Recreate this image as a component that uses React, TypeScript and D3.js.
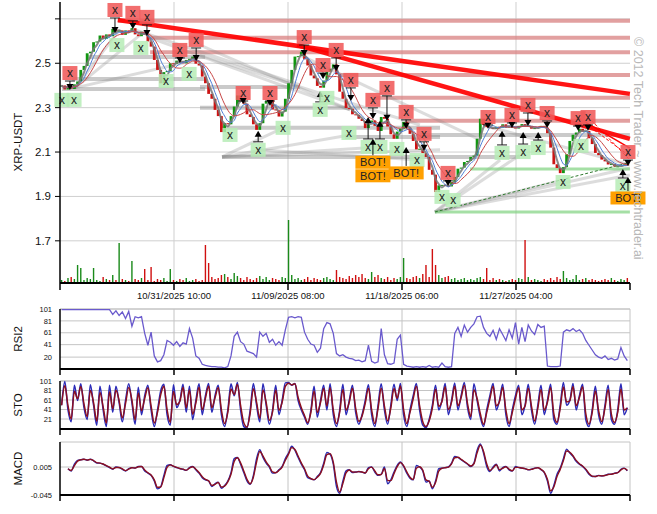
import React from "react";
import * as d3 from "d3";

// ---------- DATA ----------
const START = Date.UTC(2025, 9, 22, 12);
const HOUR = 3600000;
const SPAN_HOURS = 1070;
const CANDLE_HOURS = 6;

const xTickLabels = ["10/31/2025 10:00", "11/09/2025 08:00", "11/18/2025 06:00", "11/27/2025 04:00"];

const priceGrid = [1.7, 1.9, 2.1, 2.3, 2.5, 2.7];
const priceTickLabels = ["1.7", "1.9", "2.1", "2.3", "2.5", ""];
const rsiTicks = [20, 41, 61, 81, 101];
const stoTicks = [21, 41, 61, 81, 101];
const macdTicks = [-0.045, 0.005];
const macdTickLabels = ["-0.045", "0.005"];

const closes = [
  2.400, 2.382, 2.398, 2.384, 2.405, 2.418, 2.470, 2.488, 2.545, 2.552,
  2.595, 2.598, 2.625, 2.610, 2.630, 2.622, 2.655, 2.642, 2.648, 2.628,
  2.648, 2.640, 2.658, 2.630, 2.622, 2.642, 2.630, 2.598, 2.575, 2.515,
  2.470, 2.410, 2.460, 2.465, 2.500, 2.498, 2.512, 2.508, 2.500, 2.515,
  2.520, 2.530, 2.498, 2.490, 2.440, 2.410, 2.362, 2.340, 2.290, 2.262,
  2.190, 2.230, 2.225, 2.262, 2.305, 2.355, 2.328, 2.318, 2.270, 2.258,
  2.225, 2.200, 2.230, 2.318, 2.330, 2.335, 2.292, 2.288, 2.260, 2.282,
  2.340, 2.410, 2.470, 2.530, 2.532, 2.552, 2.518, 2.490, 2.445, 2.432,
  2.398, 2.390, 2.422, 2.462, 2.475, 2.495, 2.450, 2.372, 2.340, 2.298,
  2.295, 2.270, 2.268, 2.250, 2.240, 2.208, 2.232, 2.242, 2.218, 2.195,
  2.258, 2.250, 2.215, 2.180, 2.160, 2.192, 2.205, 2.236, 2.210, 2.182,
  2.150, 2.112, 2.115, 2.095, 2.078, 2.020, 1.998, 1.920, 1.950, 1.952,
  1.948, 1.945, 1.965, 1.988, 2.025, 2.030, 2.055, 2.060, 2.078, 2.084,
  2.160, 2.250, 2.222, 2.212, 2.208, 2.204, 2.214, 2.210, 2.225, 2.210,
  2.216, 2.212, 2.206, 2.218, 2.226, 2.214, 2.218, 2.205, 2.208, 2.212,
  2.218, 2.210, 2.185, 2.120, 2.045, 2.028, 2.005, 2.032, 2.090, 2.150,
  2.178, 2.188, 2.205, 2.192, 2.195, 2.162, 2.136, 2.096, 2.086, 2.066,
  2.058, 2.044, 2.046, 2.035, 2.036, 2.040, 2.044, 2.040,
];
const firstOpen = 2.395;

const volumes = [
  3, 2, 5, 6, 4, 18, 15, 3, 5, 4,
  15, 3, 2, 6, 4, 3, 8, 3, 40, 4,
  3, 2, 22, 4, 3, 5, 14, 3, 16, 2,
  4, 3, 5, 2, 14, 3, 2, 4, 3, 5,
  2, 3, 4, 2, 3, 38, 20, 6, 4, 5,
  8, 9, 6, 4, 10, 7, 5, 3, 6, 4,
  3, 5, 7, 4, 6, 3, 5, 4, 3, 6,
  5, 63, 8, 4, 5, 3, 4, 6, 3, 5,
  4, 3, 5, 6, 4, 3, 13, 6, 5, 4,
  7, 5, 8, 6, 9, 5, 4, 11, 6, 8,
  5, 4, 6, 3, 5, 4, 6, 25, 5, 4,
  6, 7, 5, 9, 18, 6, 34, 18, 8, 5,
  6, 7, 4, 5, 3, 4, 5, 3, 4, 3,
  5, 6, 4, 15, 3, 5, 3, 4, 3, 2,
  3, 4, 3, 5, 4, 43, 6, 3, 4, 3,
  2, 4, 3, 5, 3, 6, 4, 12, 5, 3,
  4, 8, 3, 4, 5, 3, 4, 3, 2, 3,
  4, 3, 5, 3, 2, 4, 3, 5,
];

const rsi2 = [
  100, 100, 100, 100, 100, 100, 100, 100, 100, 100, 100, 100, 100, 100, 100, 100,
  92, 98, 90, 96, 85, 97, 72, 88, 86, 88,
  60, 40, 62, 22, 12, 14, 24, 48, 45, 40,
  46, 38, 44, 42, 68, 52, 22, 18, 8, 6,
  5, 4, 4, 3, 3, 2, 4, 22, 55, 62,
  46, 42, 30, 28, 26, 20, 62, 55, 60, 45,
  50, 40, 46, 40, 66, 87, 88, 86, 88, 87,
  62, 50, 42, 40, 28, 35, 68, 78, 76, 60,
  26, 22, 24, 20, 18, 17, 14, 15, 12, 14,
  40, 13, 10, 12, 68, 24, 9, 8, 10, 50,
  57, 8, 5, 4, 3, 4, 3, 4, 3, 6,
  3, 4, 3, 10, 4, 3, 4, 60, 70, 55,
  74, 62, 70, 76, 88, 89, 70, 60, 55, 65,
  50, 68, 58, 48, 66, 52, 78, 42, 70, 46,
  74, 64, 58, 75, 70, 72, 5, 4, 4, 4,
  5, 62, 66, 64, 68, 63, 66, 60, 48, 40,
  32, 24, 20, 18, 22, 16, 18, 15, 17, 36,
  22, 14,
];

const stoK = [
  50, 100, 40, 15, 92, 60, 95, 45, 20, 93,
  50, 8, 90, 40, 5, 92, 35, 90, 55, 15,
  60, 95, 55, 10, 88, 30, 70, 92, 40, 5,
  40, 80, 94, 30, 8, 93, 45, 60, 94, 35,
  90, 20, 60, 95, 30, 70, 96, 35, 70, 92,
  30, 5, 40, 95, 70, 98, 40, 5, 2, 40,
  96, 50, 15, 95, 50, 10, 40, 92, 30, 60,
  97, 98, 92, 96, 60, 40, 25, 10, 40, 90,
  25, 60, 92, 40, 95, 30, 5, 40, 94, 30,
  60, 92, 35, 10, 30, 60, 93, 30, 5, 50,
  95, 40, 10, 50, 94, 60, 96, 30, 5, 40,
  70, 96, 40, 8, 3, 20, 50, 92, 40, 60,
  96, 30, 60, 97, 40, 70, 98, 45, 20, 95,
  60, 25, 5, 40, 70, 96, 40, 60, 94, 30,
  5, 40, 70, 92, 30, 50, 94, 40, 10, 50,
  92, 30, 60, 94, 20, 10, 50, 98, 50, 60,
  96, 40, 70, 94, 20, 5, 40, 90, 30, 10,
  50, 92, 20, 10, 40, 95, 30, 45,
];

const macd: (number | null)[] = [
  null, null, 0.002, -0.002, 0.010, 0.017, 0.018, 0.019, 0.017, 0.019,
  0.016, 0.012, 0.012, 0.010, 0.007, 0.004, 0.001, 0.005, 0.004, 0.001,
  -0.002, 0.002, 0.004, 0.003, 0.006, 0.006, -0.002, -0.006, -0.010, -0.020,
  -0.034, -0.030, -0.010, 0.008, 0.009, 0.006, 0.004, 0.002, 0.001, -0.001,
  0.004, 0.006, 0.000, -0.006, -0.014, -0.018, -0.020, -0.030, -0.025, -0.022,
  -0.033, -0.028, -0.020, -0.005, 0.020, 0.022, 0.010, -0.005, -0.020, -0.026,
  -0.010, 0.020, 0.036, 0.022, 0.012, 0.005, -0.006, -0.005, 0.000, 0.006,
  0.020, 0.030, 0.042, 0.035, 0.022, 0.010, 0.000, -0.014, -0.016, -0.018,
  -0.012, -0.005, 0.012, 0.031, 0.028, 0.010, -0.030, -0.042, -0.020, -0.002,
  0.000, -0.005, -0.004, -0.003, -0.004, -0.006, 0.004, 0.005, -0.004, -0.010,
  -0.008, 0.005, -0.025, -0.018, -0.004, 0.008, 0.014, 0.006, -0.006, -0.015,
  -0.018, 0.008, 0.005, -0.002, -0.022, -0.020, -0.034, -0.020, 0.002, 0.003,
  0.004, 0.005, 0.012, 0.024, 0.022, 0.018, 0.014, 0.010, 0.006, 0.012,
  0.035, 0.046, 0.030, 0.006, -0.003, 0.005, 0.010, -0.002, 0.004, 0.006,
  0.000, -0.002, 0.006, 0.004, 0.003, 0.002, 0.000, 0.001, 0.003, 0.004,
  0.000, -0.005, -0.020, -0.042, -0.028, -0.008, 0.003, 0.020, 0.037, 0.030,
  0.024, 0.015, 0.010, 0.006, 0.000, -0.008, -0.012, -0.012, -0.010, -0.011,
  -0.010, -0.008, -0.008, -0.006, -0.005, 0.001, 0.003, -0.002,
];

// resistance levels [start candle index, price]
const resistanceLevels: [number, number][] = [
  [17.6, 2.692], [27.7, 2.615], [27.7, 2.55], [87.1, 2.447], [98.1, 2.345], [107.4, 2.241],
];
// main down trend lines [i0, p0, i1, p1]
const trendLines: [number, number, number, number][] = [
  [17.6, 2.695, 177.8, 2.362],
  [73.7, 2.582, 177.8, 2.159],
];
const thinRedLines: [number, number, number, number][] = [
  [161.6, 2.254, 177.8, 2.118],
];
const dashedRedLines: [number, number, number, number][] = [
  [164.7, 2.258, 177.8, 2.064],
  [161.6, 2.253, 177.2, 2.087],
];
// support levels [i0, p0, i1, p1]
const graySupports: [number, number, number, number][] = [
  [0.1, 2.384, 44.9, 2.384], [3.3, 2.429, 44.9, 2.429], [8.3, 2.528, 44.9, 2.528],
  [43.3, 2.393, 74.6, 2.393], [43.3, 2.299, 93.4, 2.299], [49.6, 2.209, 118.4, 2.209],
  [50.2, 2.078, 143.4, 2.078], [88.7, 2.168, 118.4, 2.168], [112.1, 2.177, 177.8, 2.177],
];
const grayFans: [number, number, number, number][] = [
  [4.2, 2.389, 17.6, 2.641], [4.2, 2.389, 24.5, 2.627], [4.2, 2.389, 42.1, 2.515],
  [23.0, 2.65, 74.6, 2.402], [27.7, 2.614, 90.2, 2.29], [43.3, 2.582, 90.2, 2.29],
  [50.2, 2.078, 69.3, 2.209], [50.2, 2.078, 90.2, 2.177], [50.2, 2.078, 118.4, 2.11],
  [61.5, 2.11, 112.1, 2.064], [116.8, 1.83, 156.9, 1.974], [116.8, 1.83, 177.8, 1.997],
  [116.8, 1.83, 143.4, 2.087], [116.8, 1.83, 137.2, 2.064], [116.8, 1.83, 177.8, 2.028],
  [74.6, 2.537, 130.9, 2.155], [43.3, 2.537, 112.1, 2.222], [134.0, 2.213, 177.8, 2.042],
  [50.2, 2.078, 99.6, 2.123],
];
const greenSupports: [number, number, number][] = [
  [116.8, 177.8, 1.83], [127.8, 177.8, 2.024],
];
const greenDashed: [number, number, number, number][] = [[116.8, 1.83, 177.2, 2.051]];

// signals [candle index, arrow tip price, label price]
const sellSignals: [number, number, number][] = [
  [2.6, 2.384, 2.456], [16.7, 2.641, 2.74], [22.3, 2.659, 2.727], [26.7, 2.627, 2.709],
  [37.0, 2.506, 2.56], [42.1, 2.515, 2.605], [56.8, 2.321, 2.366], [65.2, 2.312, 2.366],
  [75.9, 2.537, 2.618], [81.8, 2.434, 2.492], [85.9, 2.47, 2.56], [90.5, 2.335, 2.425],
  [97.4, 2.253, 2.335], [101.8, 2.245, 2.389], [107.8, 2.209, 2.281], [113.4, 2.11, 2.182],
  [120.9, 1.952, 2.006], [133.4, 2.209, 2.258], [140.9, 2.213, 2.267], [145.9, 2.222, 2.312],
  [151.9, 2.213, 2.276], [161.6, 2.2, 2.253], [164.7, 2.2, 2.258], [177.2, 2.042, 2.1],
];
const buySignals: [number, number, number][] = [
  [0.1, 2.375, 2.335], [3.9, 2.38, 2.335], [17.3, 2.614, 2.582], [24.8, 2.605, 2.569],
  [32.7, 2.447, 2.42], [39.9, 2.488, 2.452], [52.7, 2.209, 2.177], [61.5, 2.191, 2.11],
  [69.3, 2.258, 2.209], [80.9, 2.371, 2.29], [83.0, 2.38, 2.344], [89.9, 2.245, 2.186],
  [95.9, 2.253, 2.123], [99.6, 2.236, 2.123], [104.9, 2.164, 2.114], [111.2, 2.11, 2.064],
  [119.0, 1.929, 1.898], [122.5, 1.929, 1.884], [137.8, 2.191, 2.096], [144.4, 2.186, 2.1],
  [149.1, 2.186, 2.118], [156.9, 1.992, 1.965], [162.5, 2.173, 2.128], [175.6, 2.019, 1.947],
];
const botSignals: [number, number | null, number][] = [
  [97.4, 2.155, 2.054], [97.4, null, 1.993], [107.8, 2.118, 2.006], [177.2, 1.983, 1.893],
];

// ---------- HELPERS ----------
function sma(arr: number[], n: number): number[] {
  return arr.map((_, i) => d3.mean(arr.slice(Math.max(0, i - n + 1), i + 1)) as number);
}
function ema(arr: number[], alpha: number): number[] {
  const out: number[] = [];
  arr.forEach((v, i) => out.push(i === 0 ? v : out[i - 1] + alpha * (v - out[i - 1])));
  return out;
}

const FONT = "'Liberation Sans', Arial, Helvetica, sans-serif";
const X0 = 60, X1 = 630;

export default function App() {
  const parseTick = d3.utcParse("%m/%d/%Y %H:%M");
  const x = d3.scaleUtc().domain([new Date(START), new Date(START + SPAN_HOURS * HOUR)]).range([X0, X1]);
  const xi = (i: number) => x(new Date(START + (i * CANDLE_HOURS + CANDLE_HOURS / 2) * HOUR));
  const tickX = xTickLabels.map((s) => x(parseTick(s) as Date));
  const allTickX = [X0, ...tickX, X1];

  const yP = d3.scaleLinear().domain([1.51, 2.776]).range([283, 2]);
  const yV = d3.scaleLinear().domain([0, 100]).range([283, 183]);
  const yR = d3.scaleLinear().domain([0, 101]).range([369, 309]);
  const yS = d3.scaleLinear().domain([0, 101]).range([429, 381]);
  const yM = d3.scaleLinear().domain([-0.045, 0.0497]).range([495, 442]);

  const opens = closes.map((c, i) => (i === 0 ? firstOpen : closes[i - 1]));
  const ma3 = sma(closes, 3);
  const ma5 = sma(closes, 5);
  const ma8 = sma(closes, 8);
  const lineP = (arr: number[]) =>
    d3.line<number>().x((_, i) => xi(i)).y((d) => yP(d)).curve(d3.curveMonotoneX)(arr) as string;

  const stoD = ema(stoK, 0.82);
  const macdVals = macd.map((v) => v);
  const macdSig = macdVals.map((v, i) => {
    const prev = i > 0 ? macdVals[i - 1] : null;
    return v == null ? null : prev == null ? v : 0.2 * prev + 0.8 * v;
  });

  const oscLine = (arr: (number | null)[], y: d3.ScaleLinear<number, number>, smooth = false) =>
    d3.line<number | null>().defined((d) => d != null).x((_, i) => xi(i)).y((d) => y(d as number))
      .curve(smooth ? d3.curveMonotoneX : d3.curveLinear)(arr) as string;

  const seg = (s: [number, number, number, number]) => ({ x1: xi(s[0]), y1: yP(s[1]), x2: xi(s[2]), y2: yP(s[3]) });

  const panels = [
    { title: "RSI2", y: yR, top: 309, bottom: 369, ticks: rsiTicks, labels: rsiTicks.map(String) },
    { title: "STO", y: yS, top: 381, bottom: 429, ticks: stoTicks, labels: stoTicks.map(String) },
    { title: "MACD", y: yM, top: 442, bottom: 495, ticks: macdTicks, labels: macdTickLabels },
  ];

  return (
    <svg width={657} height={514} style={{ position: "absolute", left: 0, top: 0, background: "#fff" }} fontFamily={FONT}>
      <defs>
        <clipPath id="mainClip"><rect x={X0} y={0} width={X1 - X0 + 20} height={283} /></clipPath>
        <clipPath id="oscClip"><rect x={X0} y={300} width={X1 - X0} height={200} /></clipPath>
      </defs>
      <rect x={0} y={0} width={657} height={514} fill="#fff" />

      {/* main grid */}
      {priceGrid.map((p) => (
        <line key={"pg" + p} x1={X0} x2={X1} y1={yP(p)} y2={yP(p)} stroke="#cfcfcf" strokeWidth={1} />
      ))}
      {tickX.map((tx, k) => (
        <line key={"vg" + k} x1={tx} x2={tx} y1={2} y2={283} stroke="#cfcfcf" strokeWidth={1} />
      ))}

      <g clipPath="url(#mainClip)">
        {/* volume */}
        {volumes.map((v, i) => (
          <rect key={"v" + i} x={xi(i) - 0.7} width={1.4} y={yV(v)} height={283 - yV(v)}
            fill={closes[i] >= opens[i] ? "#1a8a1a" : "#d01010"} />
        ))}
        {/* resistance bands */}
        {resistanceLevels.map(([i0, p], k) => (
          <line key={"rl" + k} x1={xi(i0)} x2={X1} y1={yP(p)} y2={yP(p)} stroke="#d88080" strokeOpacity={0.75} strokeWidth={4} />
        ))}
        {/* gray supports / fans */}
        {graySupports.map((s, k) => (
          <line key={"gs" + k} {...seg(s)} stroke="#8a8a8a" strokeOpacity={0.45} strokeWidth={4} />
        ))}
        {grayFans.map((s, k) => (
          <line key={"gf" + k} {...seg(s)} stroke="#8a8a8a" strokeOpacity={0.3} strokeWidth={3} />
        ))}
        {greenSupports.map(([i0, i1, p], k) => (
          <line key={"gr" + k} x1={xi(i0)} x2={xi(i1)} y1={yP(p)} y2={yP(p)} stroke="#7fd27f" strokeOpacity={0.7} strokeWidth={3} />
        ))}
        {greenDashed.map((s, k) => (
          <line key={"gd" + k} {...seg(s)} stroke="#2f7a2f" strokeWidth={1} strokeDasharray="3,2" />
        ))}

        {/* candles */}
        {closes.map((c, i) => {
          const o = opens[i];
          const top = yP(Math.max(o, c));
          const h = Math.max(1, yP(Math.min(o, c)) - top);
          return (
            <rect key={"c" + i} x={xi(i) - 1.4} width={2.8} y={top} height={h}
              fill={c >= o ? "#119611" : "#cc1414"} />
          );
        })}
        <path d={lineP(ma3)} fill="none" stroke="#777" strokeWidth={2} strokeOpacity={0.85} />
        <path d={lineP(ma5)} fill="none" stroke="#4f7fd6" strokeWidth={1} />
        <path d={lineP(ma8)} fill="none" stroke="#c84848" strokeWidth={1} />

        {/* red trend lines */}
        {trendLines.map((s, k) => (
          <line key={"tl" + k} {...seg(s)} stroke="#ff0000" strokeOpacity={0.92} strokeWidth={4.5} />
        ))}
        {thinRedLines.map((s, k) => (
          <line key={"tr" + k} {...seg(s)} stroke="#ff0000" strokeWidth={1.5} />
        ))}
        {dashedRedLines.map((s, k) => (
          <line key={"td" + k} {...seg(s)} stroke="#ff0000" strokeWidth={1} strokeDasharray="3,2" />
        ))}
      </g>

      {/* signals */}
      {buySignals.map(([i, tip, box], k) => {
        const cx = xi(i), ty = yP(tip), by = yP(box);
        return (
          <g key={"b" + k}>
            <rect x={cx - 7.5} y={by - 7} width={15} height={14} fill="#b6ecb6" fillOpacity={0.85} />
            <text x={cx} y={by + 4} fontSize={12} textAnchor="middle" fill="#222">x</text>
            {by - 8 - ty > 6 && (
              <g>
                <line x1={cx - 5} x2={cx + 5} y1={by - 8} y2={by - 8} stroke="#222" strokeWidth={1} />
                <line x1={cx} x2={cx} y1={by - 8} y2={ty + 4} stroke="#111" strokeWidth={1} />
                <path d={`M${cx - 3.5},${ty + 5}L${cx + 3.5},${ty + 5}L${cx},${ty - 1}Z`} fill="#000" />
              </g>
            )}
          </g>
        );
      })}
      {sellSignals.map(([i, tip, box], k) => {
        const cx = xi(i), ty = yP(tip), by = yP(box);
        return (
          <g key={"s" + k}>
            <rect x={cx - 7.5} y={by - 7} width={15} height={14} fill="#f05a5a" fillOpacity={0.88} />
            <text x={cx} y={by + 4} fontSize={12} textAnchor="middle" fill="#222">x</text>
            <line x1={cx - 5} x2={cx + 5} y1={by + 8} y2={by + 8} stroke="#222" strokeWidth={1} />
            <line x1={cx} x2={cx} y1={by + 8} y2={ty - 4} stroke="#111" strokeWidth={1} />
            <path d={`M${cx - 3.5},${ty - 5}L${cx + 3.5},${ty - 5}L${cx},${ty + 1}Z`} fill="#000" />
          </g>
        );
      })}
      {botSignals.map(([i, tip, box], k) => {
        const cx = xi(i), by = yP(box);
        const ty = tip == null ? null : yP(tip);
        return (
          <g key={"bot" + k}>
            {ty != null && (
              <g>
                <line x1={cx} x2={cx} y1={by - 7} y2={ty + 4} stroke="#111" strokeWidth={1} />
                <path d={`M${cx - 3.5},${ty + 5}L${cx + 3.5},${ty + 5}L${cx},${ty - 1}Z`} fill="#000" />
              </g>
            )}
            <rect x={cx - 17.5} y={by - 6.5} width={35} height={13} fill="#ffa000" />
            <text x={cx} y={by + 4} fontSize={11} textAnchor="middle" fill="#222">BOT!</text>
          </g>
        );
      })}

      {/* main axes */}
      <line x1={X0} x2={X0} y1={2} y2={283} stroke="#000" strokeWidth={1.5} />
      <line x1={X0} x2={X1} y1={283} y2={283} stroke="#000" strokeWidth={2} />
      {priceGrid.map((p, k) => (
        <g key={"pt" + p}>
          <line x1={X0 - 5} x2={X0} y1={yP(p)} y2={yP(p)} stroke="#000" />
          <text x={51} y={yP(p)} dy="0.35em" fontSize={11.5} textAnchor="end" fill="#111">{priceTickLabels[k]}</text>
        </g>
      ))}
      {allTickX.map((tx, k) => (
        <line key={"mt" + k} x1={tx} x2={tx} y1={283} y2={290} stroke="#000" strokeWidth={1.5} />
      ))}
      {xTickLabels.map((s, k) => (
        <text key={"xl" + k} x={tickX[k]} y={299} fontSize={9.5} textAnchor="middle" fill="#111">{s}</text>
      ))}
      <text transform="translate(22,142) rotate(-90)" fontSize={11.5} textAnchor="middle" fill="#111">XRP-USDT</text>

      {/* oscillator panels */}
      {panels.map((pn) => (
        <g key={pn.title}>
          {pn.ticks.map((t) => (
            <line key={"g" + t} x1={X0} x2={X1} y1={pn.y(t)} y2={pn.y(t)} stroke="#c4c4c4" />
          ))}
          <line x1={X0} x2={X1} y1={pn.top} y2={pn.top} stroke="#c4c4c4" />
          {tickX.map((tx, k) => (
            <line key={"v" + k} x1={tx} x2={tx} y1={pn.top} y2={pn.bottom} stroke="#c4c4c4" />
          ))}
          <line x1={X1} x2={X1} y1={pn.top} y2={pn.bottom} stroke="#c4c4c4" />
        </g>
      ))}

      <g clipPath="url(#oscClip)">
        <path d={oscLine(rsi2, yR)} fill="none" stroke="#6a5acd" strokeWidth={1.3} />
        <path d={oscLine(stoK, yS, true)} fill="none" stroke="#2a2ab8" strokeWidth={1.5} />
        <path d={oscLine(stoD, yS, true)} fill="none" stroke="#8b1020" strokeWidth={1.5} />
        <path d={oscLine(macdVals, yM, true)} fill="none" stroke="#2a2ab0" strokeWidth={1.4} />
        <path d={oscLine(macdSig, yM, true)} fill="none" stroke="#8b1020" strokeWidth={1.4} />
      </g>

      {panels.map((pn) => (
        <g key={"ax" + pn.title}>
          <line x1={X0} x2={X0} y1={pn.top} y2={pn.bottom} stroke="#000" strokeWidth={1.5} />
          <line x1={X0} x2={X1} y1={pn.bottom} y2={pn.bottom} stroke="#000" strokeWidth={2} />
          {allTickX.map((tx, k) => (
            <line key={"t" + k} x1={tx} x2={tx} y1={pn.bottom} y2={pn.bottom + 6} stroke="#000" strokeWidth={1.5} />
          ))}
          {pn.ticks.map((t, k) => (
            <text key={"l" + t} x={52} y={pn.y(t)} dy="0.35em" fontSize={7.5} textAnchor="end" fill="#111">{pn.labels[k]}</text>
          ))}
          <text transform={`translate(22,${(pn.top + pn.bottom) / 2}) rotate(-90)`} fontSize={11.5} textAnchor="middle" fill="#111">{pn.title}</text>
        </g>
      ))}

      {/* watermark */}
      <text transform="translate(634,37) rotate(90)" fontSize={12.5} fill="#b8b8b8">© 2012 Tech Trader ~ www.techtrader.ai</text>
    </svg>
  );
}
